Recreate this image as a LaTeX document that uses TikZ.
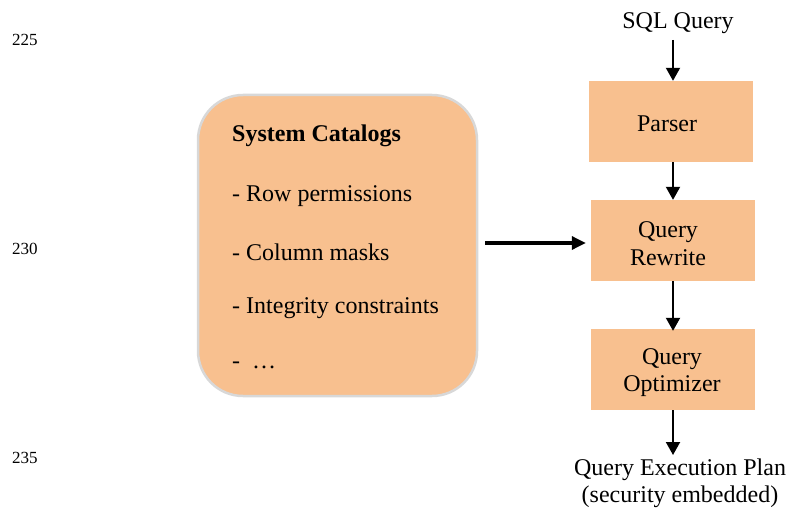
\documentclass[tikz,border=0pt]{standalone}
\usepackage{fontspec}
\setmainfont{Liberation Serif}
\usetikzlibrary{arrows.meta}
\definecolor{boxfill}{HTML}{F8C08F}
\definecolor{boxline}{HTML}{D8D8D8}
\begin{document}
\begin{tikzpicture}[x=1pt,y=-1pt,
  every node/.style={font=\fontsize{24}{27.5}\selectfont, text=black},
  stage/.style={fill=boxfill, draw=none, minimum width=164pt, minimum height=81pt, align=center, inner sep=0pt},
  stagetext/.style={align=center, inner sep=0pt},
  catbox/.style={fill=boxfill, draw=boxline, line width=2.5pt, rounded corners=45pt, minimum width=279pt, minimum height=301pt},
  item/.style={anchor=west, inner sep=0pt},
  lineno/.style={font=\fontsize{17}{19}\selectfont, inner sep=0pt},
  arr/.style={line width=2pt, -{Triangle[length=13pt,width=14pt]}},
  arrthick/.style={line width=3.2pt, -{Triangle[length=14pt,width=13pt]}}
]
\useasboundingbox (0,0) rectangle (789,508);

% line numbers
\node[lineno] (l225) at (25,39.5) {225};
\node[lineno] (l230) at (25,248.5) {230};
\node[lineno] (l235) at (25,457.5) {235};

% system catalogs
\node[catbox] (catalogs) at (337.5,245.5) {};
\node[item, font=\fontsize{24}{27.5}\selectfont\bfseries] (t0) at (232,135.5) {System Catalogs};
\node[item] (t1) at (232,196.5) {- Row permissions};
\node[item] (t2) at (232,252.5) {- Column masks};
\node[item] (t3) at (232,308.5) {- Integrity constraints};
\node[item] (t4) at (232,365.5) {-\ \ …};

% pipeline
\node[stage] (parser) at (671,121.5) {};
\node[stage] (rewrite) at (673,240.5) {};
\node[stage] (optim) at (673,369.5) {};
\node[stagetext] (parsert) at (667,124) {Parser};
\node[stagetext] (rewritet) at (668,243.5) {Query\\Rewrite};
\node[stagetext] (optimt) at (672,372.5) {Query\\Optimizer};
\node[inner sep=0pt] (sql) at (678,23.5) {SQL Query};
\node[align=center, inner sep=0pt] (plan) at (680,483.5) {Query Execution Plan\\(security embedded)};

\coordinate (ax) at (673,0);
\draw[arr] (ax |- 0,40) -- (ax |- parser.north);
\draw[arr] (ax |- parser.south) -- (ax |- rewrite.north);
\draw[arr] (ax |- rewrite.south) -- ([yshift=-2pt]ax |- optim.north);
\draw[arr] (ax |- optim.south) -- (ax |- 0,455);

\coordinate (hs) at ([xshift=7pt,yshift=2.5pt]catalogs.east);
\draw[arrthick, shorten >=5pt] (hs) -- (hs -| rewrite.west);
\end{tikzpicture}
\end{document}
